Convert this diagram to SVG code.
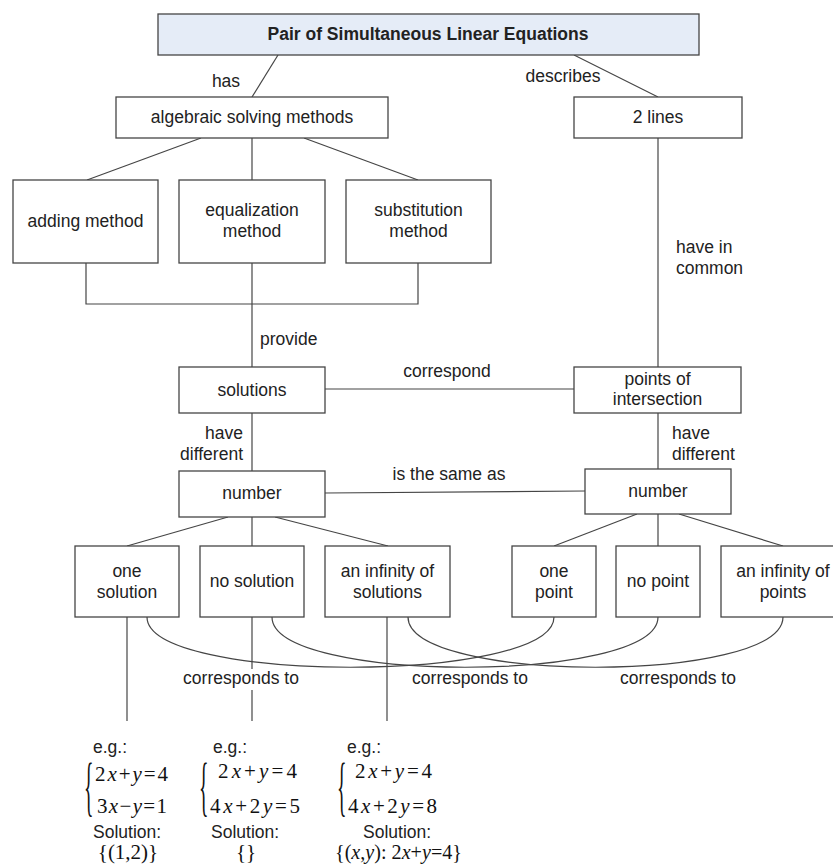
<svg xmlns="http://www.w3.org/2000/svg" width="833" height="868" viewBox="0 0 833 868">
<style>
  .box { fill:#ffffff; stroke:#454545; stroke-width:1.3; }
  .head { fill:#e5ecf7; }
  .t { font-family:"Liberation Sans", Arial, sans-serif; font-size:17.5px; fill:#222; }
  .m { text-anchor:middle; }
  .b { font-weight:bold; }
  .conn line, .conn path, .conn polyline { stroke:#454545; stroke-width:1.2; fill:none; }
  .math { font-family:"Liberation Serif", "Times New Roman", serif; font-size:21px; fill:#111; }
  .brace { font-family:"Liberation Serif", "Times New Roman", serif; font-size:66px; fill:#111; }
</style>
<rect width="833" height="868" fill="#ffffff"/>

<g id="connectors" class="conn">
  <line x1="278" y1="55" x2="252" y2="97"/>
  <line x1="574" y1="55" x2="658" y2="97"/>
  <line x1="201" y1="138" x2="87" y2="180"/>
  <line x1="252" y1="138" x2="252" y2="180"/>
  <line x1="304" y1="138" x2="418" y2="180"/>
  <polyline points="86,263 86,304 418,304 418,263"/>
  <line x1="252" y1="263" x2="252" y2="367"/>
  <line x1="658" y1="138" x2="658" y2="367"/>
  <line x1="325" y1="389" x2="574" y2="389"/>
  <line x1="252" y1="413" x2="252" y2="471"/>
  <line x1="658" y1="413" x2="658" y2="469"/>
  <line x1="325" y1="493" x2="585" y2="491"/>
  <line x1="228" y1="517" x2="127" y2="546"/>
  <line x1="252" y1="517" x2="252" y2="546"/>
  <line x1="275" y1="517" x2="388" y2="546"/>
  <line x1="637" y1="514" x2="554" y2="546"/>
  <line x1="658" y1="514" x2="658" y2="546"/>
  <line x1="679" y1="514" x2="783" y2="546"/>
  <line x1="127" y1="617" x2="127" y2="721"/>
  <line x1="252" y1="617" x2="252" y2="721"/>
  <line x1="387" y1="617" x2="387" y2="721"/>
  <path d="M147,617 C147,684 554,684 554,617"/>
  <path d="M272,617 C272,684 658,684 658,617"/>
  <path d="M408,617 C408,684 783,684 783,617"/>
  <rect x="240" y="669" width="24" height="21" fill="#ffffff" stroke="none"/>
  <text class="t" x="226" y="87" text-anchor="middle">has</text>
  <text class="t" x="563" y="82" text-anchor="middle">describes</text>
  <text class="t" x="260" y="345">provide</text>
  <text class="t" x="676" y="253">have in</text>
  <text class="t" x="676" y="274">common</text>
  <text class="t m" x="447" y="377">correspond</text>
  <text class="t" x="243" y="439" text-anchor="end">have</text>
  <text class="t" x="243" y="460" text-anchor="end">different</text>
  <text class="t" x="672" y="439">have</text>
  <text class="t" x="672" y="460">different</text>
  <text class="t m" x="449" y="480">is the same as</text>
  <text class="t m" x="241" y="684">corresponds to</text>
  <text class="t m" x="470" y="684">corresponds to</text>
  <text class="t m" x="678" y="684">corresponds to</text>
</g>

<g id="n-title"><rect class="box head" x="158" y="14" width="541" height="41"/><text class="t m b" x="428" y="40">Pair of Simultaneous Linear Equations</text></g>
<g id="n-algebraic"><rect class="box" x="116" y="97" width="272" height="41"/><text class="t m" x="252" y="123">algebraic solving methods</text></g>
<g id="n-2lines"><rect class="box" x="574" y="97" width="168" height="41"/><text class="t m" x="658" y="123">2 lines</text></g>
<g id="n-adding"><rect class="box" x="13" y="180" width="145" height="83"/><text class="t m" x="85.5" y="227">adding method</text></g>
<g id="n-equalization"><rect class="box" x="179" y="180" width="146" height="83"/><text class="t m" x="252" y="216">equalization</text><text class="t m" x="252" y="237">method</text></g>
<g id="n-substitution"><rect class="box" x="346" y="180" width="145" height="83"/><text class="t m" x="418.5" y="216">substitution</text><text class="t m" x="418.5" y="237">method</text></g>
<g id="n-solutions"><rect class="box" x="179" y="367" width="146" height="46"/><text class="t m" x="252" y="396">solutions</text></g>
<g id="n-points"><rect class="box" x="574" y="367" width="167" height="46"/><text class="t m" x="657.5" y="385">points of</text><text class="t m" x="657.5" y="405">intersection</text></g>
<g id="n-number-left"><rect class="box" x="179" y="471" width="146" height="46"/><text class="t m" x="252" y="499">number</text></g>
<g id="n-number-right"><rect class="box" x="585" y="469" width="146" height="45"/><text class="t m" x="658" y="497">number</text></g>
<g id="n-one-solution"><rect class="box" x="75" y="546" width="104" height="71"/><text class="t m" x="127" y="577">one</text><text class="t m" x="127" y="598">solution</text></g>
<g id="n-no-solution"><rect class="box" x="200" y="546" width="104" height="71"/><text class="t m" x="252" y="587">no solution</text></g>
<g id="n-inf-solutions"><rect class="box" x="325" y="546" width="125" height="71"/><text class="t m" x="387.5" y="577">an infinity of</text><text class="t m" x="387.5" y="598">solutions</text></g>
<g id="n-one-point"><rect class="box" x="512" y="546" width="84" height="71"/><text class="t m" x="554" y="577">one</text><text class="t m" x="554" y="598">point</text></g>
<g id="n-no-point"><rect class="box" x="616" y="546" width="84" height="71"/><text class="t m" x="658" y="587">no point</text></g>
<g id="n-inf-points"><rect class="box" x="721" y="546" width="124" height="71"/><text class="t m" x="783" y="577">an infinity of</text><text class="t m" x="783" y="598">points</text></g>

<g id="ex-1">
  <text class="t" x="93" y="753">e.g.:</text>
  <text class="brace" transform="translate(84,808) scale(0.3,1)">{</text>
  <text class="math" x="95" y="781" textLength="73" lengthAdjust="spacing">2<tspan font-style="italic">x</tspan>+<tspan font-style="italic">y</tspan>=4</text>
  <text class="math" x="97" y="813" textLength="70" lengthAdjust="spacing">3<tspan font-style="italic">x</tspan>−<tspan font-style="italic">y</tspan>=1</text>
  <text class="t" x="93" y="838">Solution:</text>
  <text class="math m" x="128" y="859">{(1,2)}</text>
</g>
<g id="ex-2">
  <text class="t" x="213" y="753">e.g.:</text>
  <text class="brace" transform="translate(199,808) scale(0.3,1)">{</text>
  <text class="math" x="218" y="778" textLength="79" lengthAdjust="spacing">2<tspan font-style="italic">x</tspan>+<tspan font-style="italic">y</tspan>=4</text>
  <text class="math" x="210" y="813" textLength="90" lengthAdjust="spacing">4<tspan font-style="italic">x</tspan>+2<tspan font-style="italic">y</tspan>=5</text>
  <text class="t" x="211" y="838">Solution:</text>
  <text class="math m" x="246" y="859">{}</text>
</g>
<g id="ex-3">
  <text class="t" x="347" y="753">e.g.:</text>
  <text class="brace" transform="translate(337,808) scale(0.3,1)">{</text>
  <text class="math" x="355" y="778" textLength="77" lengthAdjust="spacing">2<tspan font-style="italic">x</tspan>+<tspan font-style="italic">y</tspan>=4</text>
  <text class="math" x="348" y="813" textLength="89" lengthAdjust="spacing">4<tspan font-style="italic">x</tspan>+2<tspan font-style="italic">y</tspan>=8</text>
  <text class="t" x="363" y="838">Solution:</text>
  <text class="math" x="335" y="859" textLength="127" lengthAdjust="spacingAndGlyphs">{(<tspan font-style="italic">x</tspan>,<tspan font-style="italic">y</tspan>): 2<tspan font-style="italic">x</tspan>+<tspan font-style="italic">y</tspan>=4}</text>
</g>
</svg>
